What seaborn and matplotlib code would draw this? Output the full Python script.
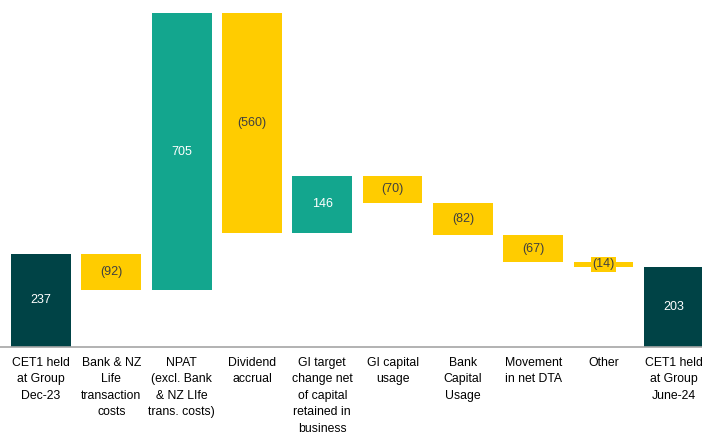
import matplotlib
matplotlib.use("Agg")
import matplotlib.pyplot as plt
import seaborn as sns
import numpy as np
import pandas as pd

categories = ["CET1 held\nat Group\nDec-23", "Bank & NZ\nLife\ntransaction\ncosts",
              "NPAT\n(excl. Bank\n& NZ LIfe\ntrans. costs)", "Dividend\naccrual",
              "GI target\nchange net\nof capital\nretained in\nbusiness",
              "GI capital\nusage", "Bank\nCapital\nUsage", "Movement\nin net DTA",
              "Other", "CET1 held\nat Group\nJune-24"]
values = [237, -92, 705, -560, 146, -70, -82, -67, -14, 203]
kinds = ["total", "delta", "delta", "delta", "delta", "delta", "delta", "delta", "delta", "total"]

DARK = "#004346"
TEAL = "#13A68E"
YELLOW = "#FFCC00"

bottoms, heights, colors = [], [], []
run = 0
for v, k in zip(values, kinds):
    if k == "total":
        bottoms.append(0); heights.append(v); colors.append(DARK); run = v
    else:
        if v >= 0:
            bottoms.append(run); heights.append(v); colors.append(TEAL)
        else:
            bottoms.append(run + v); heights.append(-v); colors.append(YELLOW)
        run += v

df = pd.DataFrame({"cat": categories, "top": np.array(bottoms) + np.array(heights),
                   "base": bottoms})

sns.set_style("white")
plt.rcParams["font.family"] = ["Liberation Sans", "DejaVu Sans"]

fig = plt.figure(figsize=(7.02, 4.32), dpi=100)
ax = fig.add_axes([0, (432-347)/432, 1, (347-13)/432])

sns.barplot(data=df, x="cat", y="top", hue="cat", palette=colors, legend=False,
            width=0.85, linewidth=0, ax=ax, saturation=1)
sns.barplot(data=df, x="cat", y="base", color="white", width=0.87, linewidth=0,
            ax=ax, saturation=1)

for i, (v, b, h, c) in enumerate(zip(values, bottoms, heights, colors)):
    txt = f"({-v})" if v < 0 else f"{v}"
    tc = "#404040" if c == YELLOW else "white"
    kw = {}
    if c == YELLOW and h < 20:
        kw["bbox"] = dict(boxstyle="square,pad=0.1", fc=YELLOW, ec="none")
    ax.text(i, b + h / 2, txt, ha="center", va="center", fontsize=9, color=tc, **kw)

ax.set_xlim(-0.583, 9.40)
ax.set_ylim(0, 850)
ax.set_xlabel("")
ax.set_ylabel("")
ax.set_yticks([])
ax.tick_params(axis="x", length=0, pad=7, labelsize=8.8, labelcolor="black")
for lbl in ax.get_xticklabels():
    lbl.set_linespacing(1.5)
for s in ["top", "right", "left"]:
    ax.spines[s].set_visible(False)
ax.spines["bottom"].set_color("#A6A6A6")
ax.spines["bottom"].set_linewidth(1.2)

fig.savefig("out.png", dpi=100)
